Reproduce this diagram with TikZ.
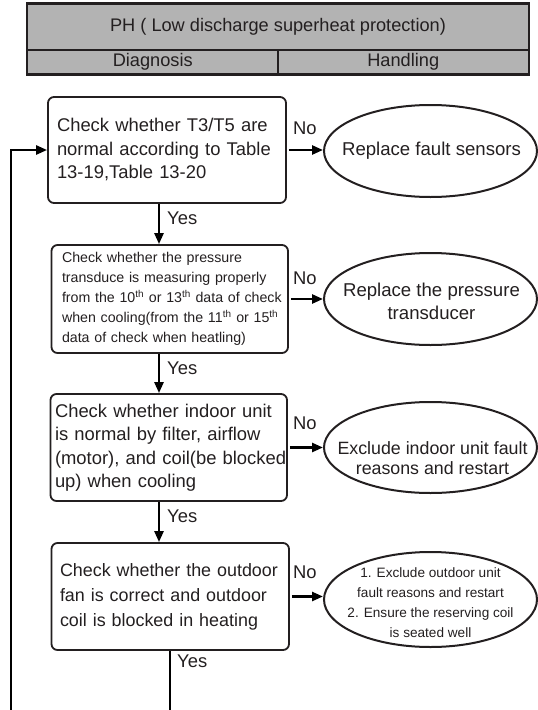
\documentclass[tikz,border=0pt]{standalone}
\usepackage{fontspec}
\setmainfont{Liberation Sans}
\usetikzlibrary{arrows.meta,shapes.geometric}
\definecolor{ink}{HTML}{231F20}
\definecolor{hdrgray}{HTML}{B3B3B3}
\begin{document}
\begin{tikzpicture}[x=1pt,y=-1pt,
  big/.style={font=\fontsize{18.4}{23.5}\selectfont},
  small/.style={font=\fontsize{14.2}{20}\selectfont},
  hdrcell/.style={draw=ink,line width=1.2pt,fill=hdrgray,text=ink,inner sep=0pt,font=\fontsize{18.2}{22}\selectfont},
  chk/.style={draw=ink,line width=1.8pt,rounded corners=6pt,text=ink,align=left,inner ysep=0pt},
  oval/.style={draw=ink,line width=2pt,ellipse,inner sep=0pt},
  ovaltext/.style={text=ink,align=center,inner sep=0pt},
  lbl/.style={text=ink,anchor=west,inner sep=0pt,big},
  arr/.style={line width=2.5pt,-{Triangle[length=11pt,width=9pt]}},
  wire/.style={line width=2.5pt}
]
\useasboundingbox (0,0) rectangle (538,710);

% header table
\node[hdrcell,minimum width=501pt,minimum height=46pt] (title) at (278,27) {PH ( Low discharge superheat protection)};
\node[hdrcell,minimum width=250.5pt,minimum height=24pt] (diag) at (152.75,62) {Diagnosis};
\node[hdrcell,minimum width=250.5pt,minimum height=24pt] (hand) at (403.25,62) {Handling};
\draw[ink,line width=2.4pt] (title.north west) rectangle (hand.south east);

% check boxes
\node[chk,big,text width=220pt,inner xsep=9pt,minimum height=106pt] (b1) at (167,150)
  {\mbox{Check whether T3/T5 are}\\\mbox{normal according to Table}\\\mbox{13-19,Table 13-20}};
\node[chk,small,text width=215.5pt,inner xsep=10.5pt,minimum height=108pt] (b2) at (169.75,299)
  {\mbox{Check whether the pressure}\\\mbox{transduce is measuring properly}\\\mbox{from the 10\textsuperscript{th} or 13\textsuperscript{th} data of check}\\\mbox{when cooling(from the 11\textsuperscript{th} or 15\textsuperscript{th}}\\\mbox{data of check when heatling)}};
\node[chk,big,text width=227.5pt,inner xsep=4.5pt,minimum height=107pt] (b3) at (168.75,447.5)
  {\mbox{Check whether indoor unit}\\\mbox{is normal by filter, airflow}\\\mbox{(motor), and coil(be blocked}\\\mbox{up) when cooling}};
\node[chk,font=\fontsize{17.9}{25}\selectfont,text width=220.5pt,inner xsep=8.5pt,minimum height=107pt] (b4) at (170.25,596.5)
  {\mbox{Check whether the outdoor}\\\mbox{fan is correct and outdoor}\\\mbox{coil is blocked in heating}};

% handling ovals
\node[oval,minimum width=213pt,minimum height=92pt] (e1) at (430.5,151) {};
\node[ovaltext,font=\fontsize{18.6}{23}\selectfont] (t1) at ([xshift=1pt]e1.center) {Replace fault sensors};
\node[oval,minimum width=213pt,minimum height=92pt] (e2) at (430.5,299) {};
\node[ovaltext,font=\fontsize{18.6}{23}\selectfont] (t2) at ([xshift=1pt,yshift=-2pt]e2.center) {Replace the pressure\\transducer};
\node[oval,minimum width=213pt,minimum height=91pt] (e3) at (430.5,447.5) {};
\node[ovaltext,font=\fontsize{17.8}{19.5}\selectfont] (t3) at ([xshift=2pt,yshift=-10.5pt]e3.center) {Exclude indoor unit fault\\reasons and restart};
\node[oval,minimum width=213pt,minimum height=95pt] (e4) at (430.5,599.5) {};
\node[ovaltext,font=\fontsize{13.6}{20}\selectfont] (t4) at ([yshift=-3pt]e4.center) {1. Exclude outdoor unit\\fault reasons and restart\\2. Ensure the reserving coil\\is seated well};

% No arrows
\draw[arr] ([xshift=2pt]b1.east) -- (b1.east -| e1.west);
\draw[arr] ([xshift=2pt]b2.east) -- (b2.east -| e2.west);
\draw[arr] ([xshift=2pt]b3.east) -- (b3.east -| e3.west);
\draw[arr] ([xshift=2pt]b4.east) -- (b4.east -| e4.west);
\node[lbl] (no1) at (293,128) {No};
\node[lbl] (no2) at (293,278) {No};
\node[lbl] (no3) at (293,423) {No};
\node[lbl] (no4) at (293,572) {No};

% Yes arrows
\coordinate (xa) at (159,0);
\draw[arr] (xa |- b1.south) -- (xa |- b2.north);
\draw[arr] (xa |- b2.south) -- (xa |- b3.north);
\draw[arr] (xa |- b3.south) -- (xa |- b4.north);
\coordinate (endb) at (170,710);
\draw[wire] (endb |- b4.south) -- (endb);
\node[lbl] (y1) at (167,218) {Yes};
\node[lbl] (y2) at (167,368) {Yes};
\node[lbl] (y3) at (167,516) {Yes};
\node[lbl] (y4) at (177,661) {Yes};

% loop back
\coordinate (loopbot) at (11,710);
\draw[arr] (loopbot) |- (b1.west);
\end{tikzpicture}
\end{document}
